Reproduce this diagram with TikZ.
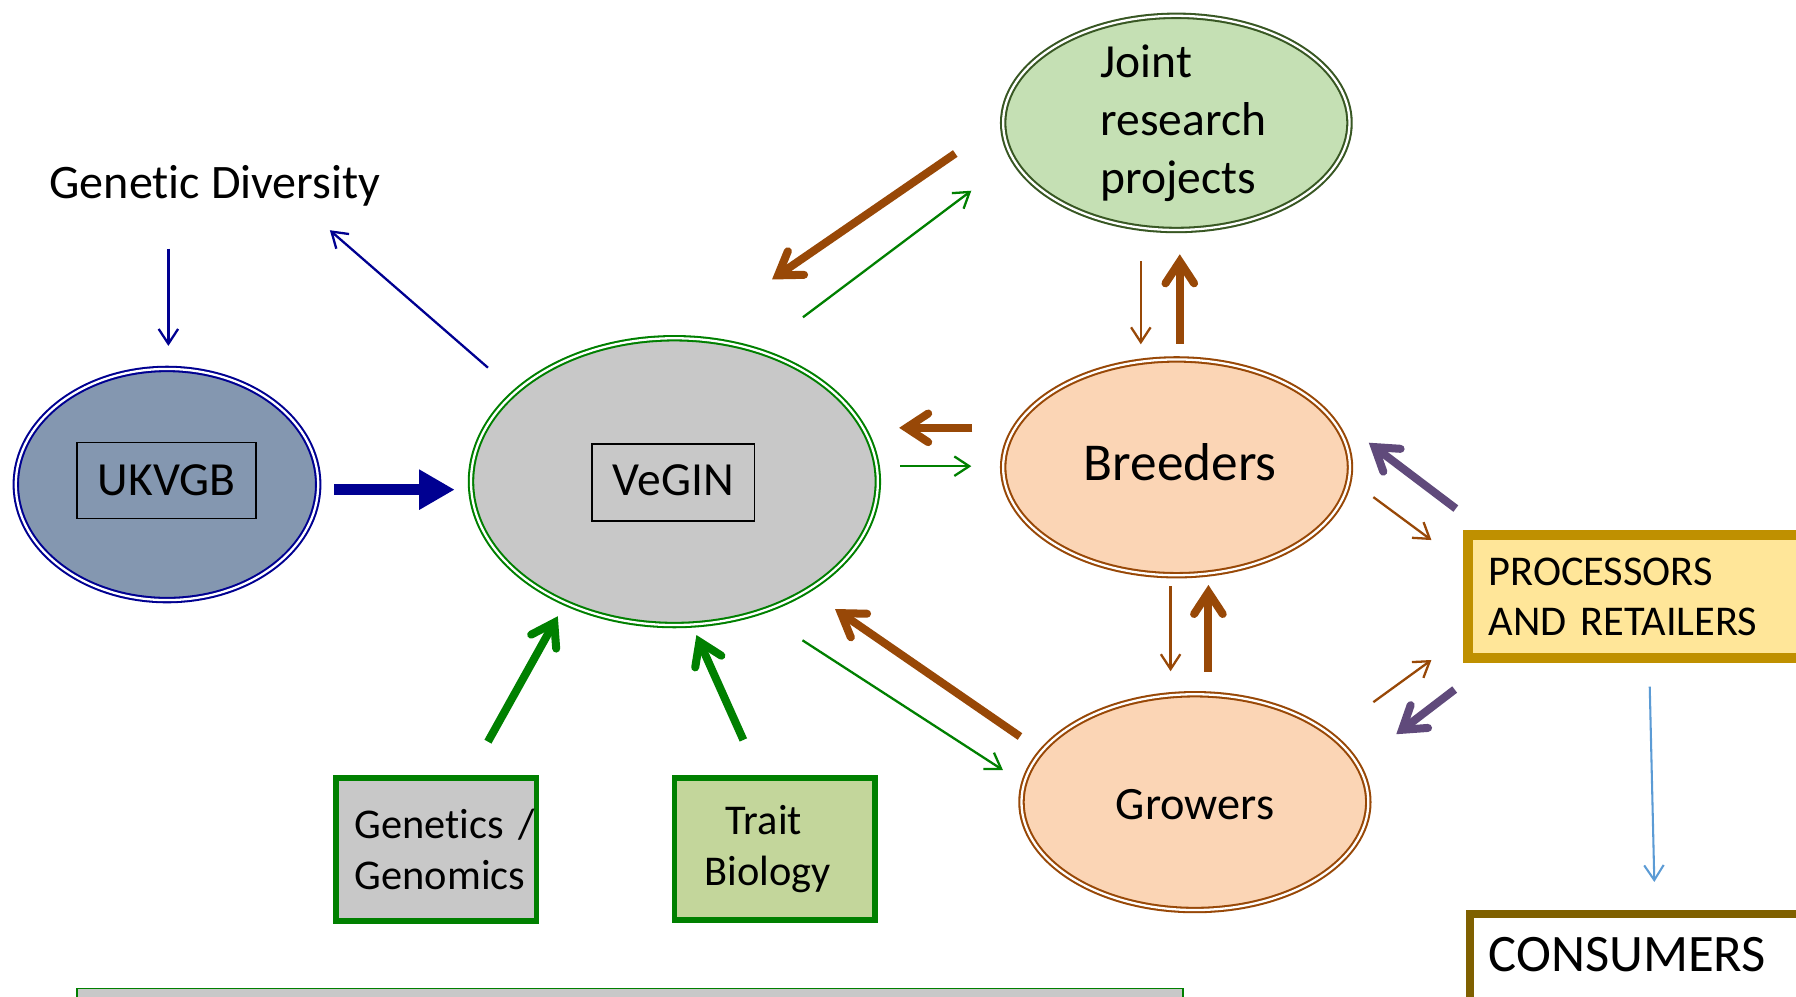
\documentclass[tikz,border=0pt]{standalone}
\usepackage{fontspec}
\setmainfont{Carlito}[Ligatures=NoCommon]
\usetikzlibrary{arrows.meta,shapes.geometric}
\definecolor{navy}{RGB}{0,0,145}
\definecolor{ukfill}{RGB}{132,151,176}
\definecolor{vegfill}{RGB}{200,200,200}
\definecolor{grn}{RGB}{0,128,0}
\definecolor{jfill}{RGB}{197,224,180}
\definecolor{jdraw}{RGB}{56,87,35}
\definecolor{pfill}{RGB}{251,213,181}
\definecolor{brn}{RGB}{152,72,7}
\definecolor{purp}{RGB}{96,74,123}
\definecolor{procfill}{RGB}{255,230,153}
\definecolor{procdraw}{RGB}{191,144,0}
\definecolor{consdraw}{RGB}{127,96,0}
\definecolor{traitfill}{RGB}{195,214,155}
\definecolor{lblue}{RGB}{91,155,213}
\tikzset{
  mainfont/.style={font=\fontsize{41.5pt}{50.5pt}\selectfont},
  smallfont/.style={font=\fontsize{37pt}{44pt}\selectfont},
  dblell/.style={ellipse, inner sep=0pt, line width=1.8pt, double=white, double distance=2pt},
  innerbox/.style={rectangle, draw=black, line width=1.3pt, inner sep=0pt, mainfont},
  gbox/.style={rectangle, draw=grn, line width=5pt, inner ysep=0pt, outer sep=0pt, smallfont},
  thinarr/.style={line width=2pt, -{Straight Barb[length=13pt,width=17pt]}},
  thickarr/.style={line width=7pt, -{Straight Barb[length=19pt,width=25pt,line cap=round,line join=miter]}},
}
\begin{document}
\begin{tikzpicture}[x=1pt,y=-1pt]
\path[use as bounding box, fill=white] (0,0) rectangle (1568,870);
\clip (0,0) rectangle (1568,870);

% nodes
\node[anchor=base west, inner sep=0pt, font=\fontsize{42pt}{50.5pt}\selectfont] (gdiv) at (43,173) {Genetic Diversity};

\node[dblell, draw=navy, fill=ukfill, minimum width=264pt, minimum height=201.8pt] (ukvgb) at (145.8,423) {};
\node[innerbox, minimum width=156pt, minimum height=66.6pt, text height=33.5pt, text depth=6.5pt] (ukbox) at (145.4,419.5) {UKVGB};

\node[dblell, draw=grn, fill=vegfill, minimum width=355.2pt, minimum height=250.4pt] (vegin) at (588.8,420.5) {};
\node[innerbox, minimum width=142.1pt, minimum height=67.3pt, text height=31.75pt, text depth=8.25pt] (vebox) at (587.85,421.25) {VeGIN};

\node[dblell, draw=jdraw, fill=jfill, minimum width=302.4pt, minimum height=187pt, mainfont, text width=132pt, align=left, inner ysep=-12pt, inner xsep=-12pt] (joint) at (1027,107.3) {Joint\\research\\projects};

\node[dblell, draw=brn, fill=pfill, minimum width=302.8pt, minimum height=188.4pt, font=\fontsize{46.5pt}{54pt}\selectfont, text height=31.7pt, text depth=8.3pt] (breed) at (1027.2,408) {\hspace*{6pt}Breeders};

\node[dblell, draw=brn, fill=pfill, minimum width=302.8pt, minimum height=188.4pt, font=\fontsize{40.5pt}{50pt}\selectfont, text height=35pt, text depth=5pt] (grow) at (1043.2,700.3) {Growers};

\node[rectangle, draw=procdraw, fill=procfill, line width=9pt, outer sep=0pt, anchor=north west, minimum width=338.5pt, minimum height=107.3pt, text width=302.5pt, inner xsep=18pt, inner ysep=0pt, align=left, font=\fontsize{37pt}{43.7pt}\selectfont] (proc) at (1281.5,467.2) {PROCESSORS\\AND RETAILERS};

\node[rectangle, draw=consdraw, fill=white, line width=7pt, outer sep=0pt, anchor=north west, minimum width=340pt, minimum height=100pt, text width=307.2pt, inner xsep=16.4pt, inner ysep=0pt, text height=30pt, text depth=30pt, align=left, font=\fontsize{46pt}{54pt}\selectfont] (cons) at (1283.2,798) {CONSUMERS};

\node[gbox, fill=vegfill, anchor=north west, minimum width=175.4pt, minimum height=125.1pt, text width=142.2pt, inner xsep=16.6pt, align=left] (gen) at (293.1,679.1) {Genetics~/\\Genomics};

\node[gbox, fill=traitfill, minimum width=175.4pt, minimum height=124.4pt, align=center] (trait) at (676.5,741.3) {Trait\hspace*{19pt}\\Biology\hspace*{12pt}};

\node[rectangle, draw=grn, fill=vegfill, line width=1.5pt, outer sep=0pt, anchor=north west, minimum width=965pt, minimum height=60pt, inner sep=0pt] (bar) at (67.5,863) {};

% connector end points
\coordinate (gdA) at (147,217);   \coordinate (gdB) at (147,302);
\coordinate (vgA) at (426,321);   \coordinate (vgB) at (288,201);
\coordinate (ukA) at (292,427.5); \coordinate (ukB) at (397,427.5);
\coordinate (jvA) at (834,134);   \coordinate (jvB) at (674,244);
\coordinate (vjA) at (701,277);   \coordinate (vjB) at (848,166.5);
\coordinate (jbA) at (996,228);   \coordinate (jbB) at (996,300.6);
\coordinate (bjA) at (1030,300);  \coordinate (bjB) at (1030,222);
\coordinate (bvA) at (849,373.5); \coordinate (bvB) at (785,373.5);
\coordinate (vbA) at (786,407);   \coordinate (vbB) at (848,407);
\coordinate (pbA) at (1271,444);  \coordinate (pbB) at (1195,386.5);
\coordinate (bpA) at (1199,434);  \coordinate (bpB) at (1249.7,471.5);
\coordinate (bgA) at (1022,512);  \coordinate (bgB) at (1022,586);
\coordinate (gbA) at (1055,586.5);\coordinate (gbB) at (1055,510.7);
\coordinate (gpA) at (1199,613);  \coordinate (gpB) at (1249.7,576.2);
\coordinate (pgA) at (1270,602);  \coordinate (pgB) at (1219,641);
\coordinate (gvA) at (890.5,643); \coordinate (gvB) at (729,531.7);
\coordinate (vrA) at (700.6,559); \coordinate (vrB) at (875.6,672.3);
\coordinate (ggA) at (426,647.5); \coordinate (ggB) at (487,538);
\coordinate (tbA) at (649,646);   \coordinate (tbB) at (608,554.4);
\coordinate (pcA) at (1440.3,599.5); \coordinate (pcB) at (1444.3,770);

% connectors
\draw[thinarr, navy] (gdA) -- (gdB);
\draw[thinarr, navy] (vgA) -- (vgB);
\draw[navy, line width=10pt, -{Triangle[length=31pt,width=33pt]}] (ukA) -- (ukB);
\draw[thickarr, brn] (jvA) -- (jvB);
\draw[thinarr, grn] (vjA) -- (vjB);
\draw[thinarr, brn] (jbA) -- (jbB);
\draw[thickarr, brn] (bjA) -- (bjB);
\draw[thickarr, brn] (bvA) -- (bvB);
\draw[thinarr, grn] (vbA) -- (vbB);
\draw[thickarr, purp] (pbA) -- (pbB);
\draw[thinarr, brn] (bpA) -- (bpB);
\draw[thinarr, brn] (bgA) -- (bgB);
\draw[thickarr, brn] (gbA) -- (gbB);
\draw[thinarr, brn] (gpA) -- (gpB);
\draw[thickarr, purp] (pgA) -- (pgB);
\draw[thickarr, brn] (gvA) -- (gvB);
\draw[thinarr, grn] (vrA) -- (vrB);
\draw[thickarr, grn] (ggA) -- (ggB);
\draw[thickarr, grn] (tbA) -- (tbB);
\draw[thinarr, lblue, line width=1.8pt] (pcA) -- (pcB);
\end{tikzpicture}
\end{document}
